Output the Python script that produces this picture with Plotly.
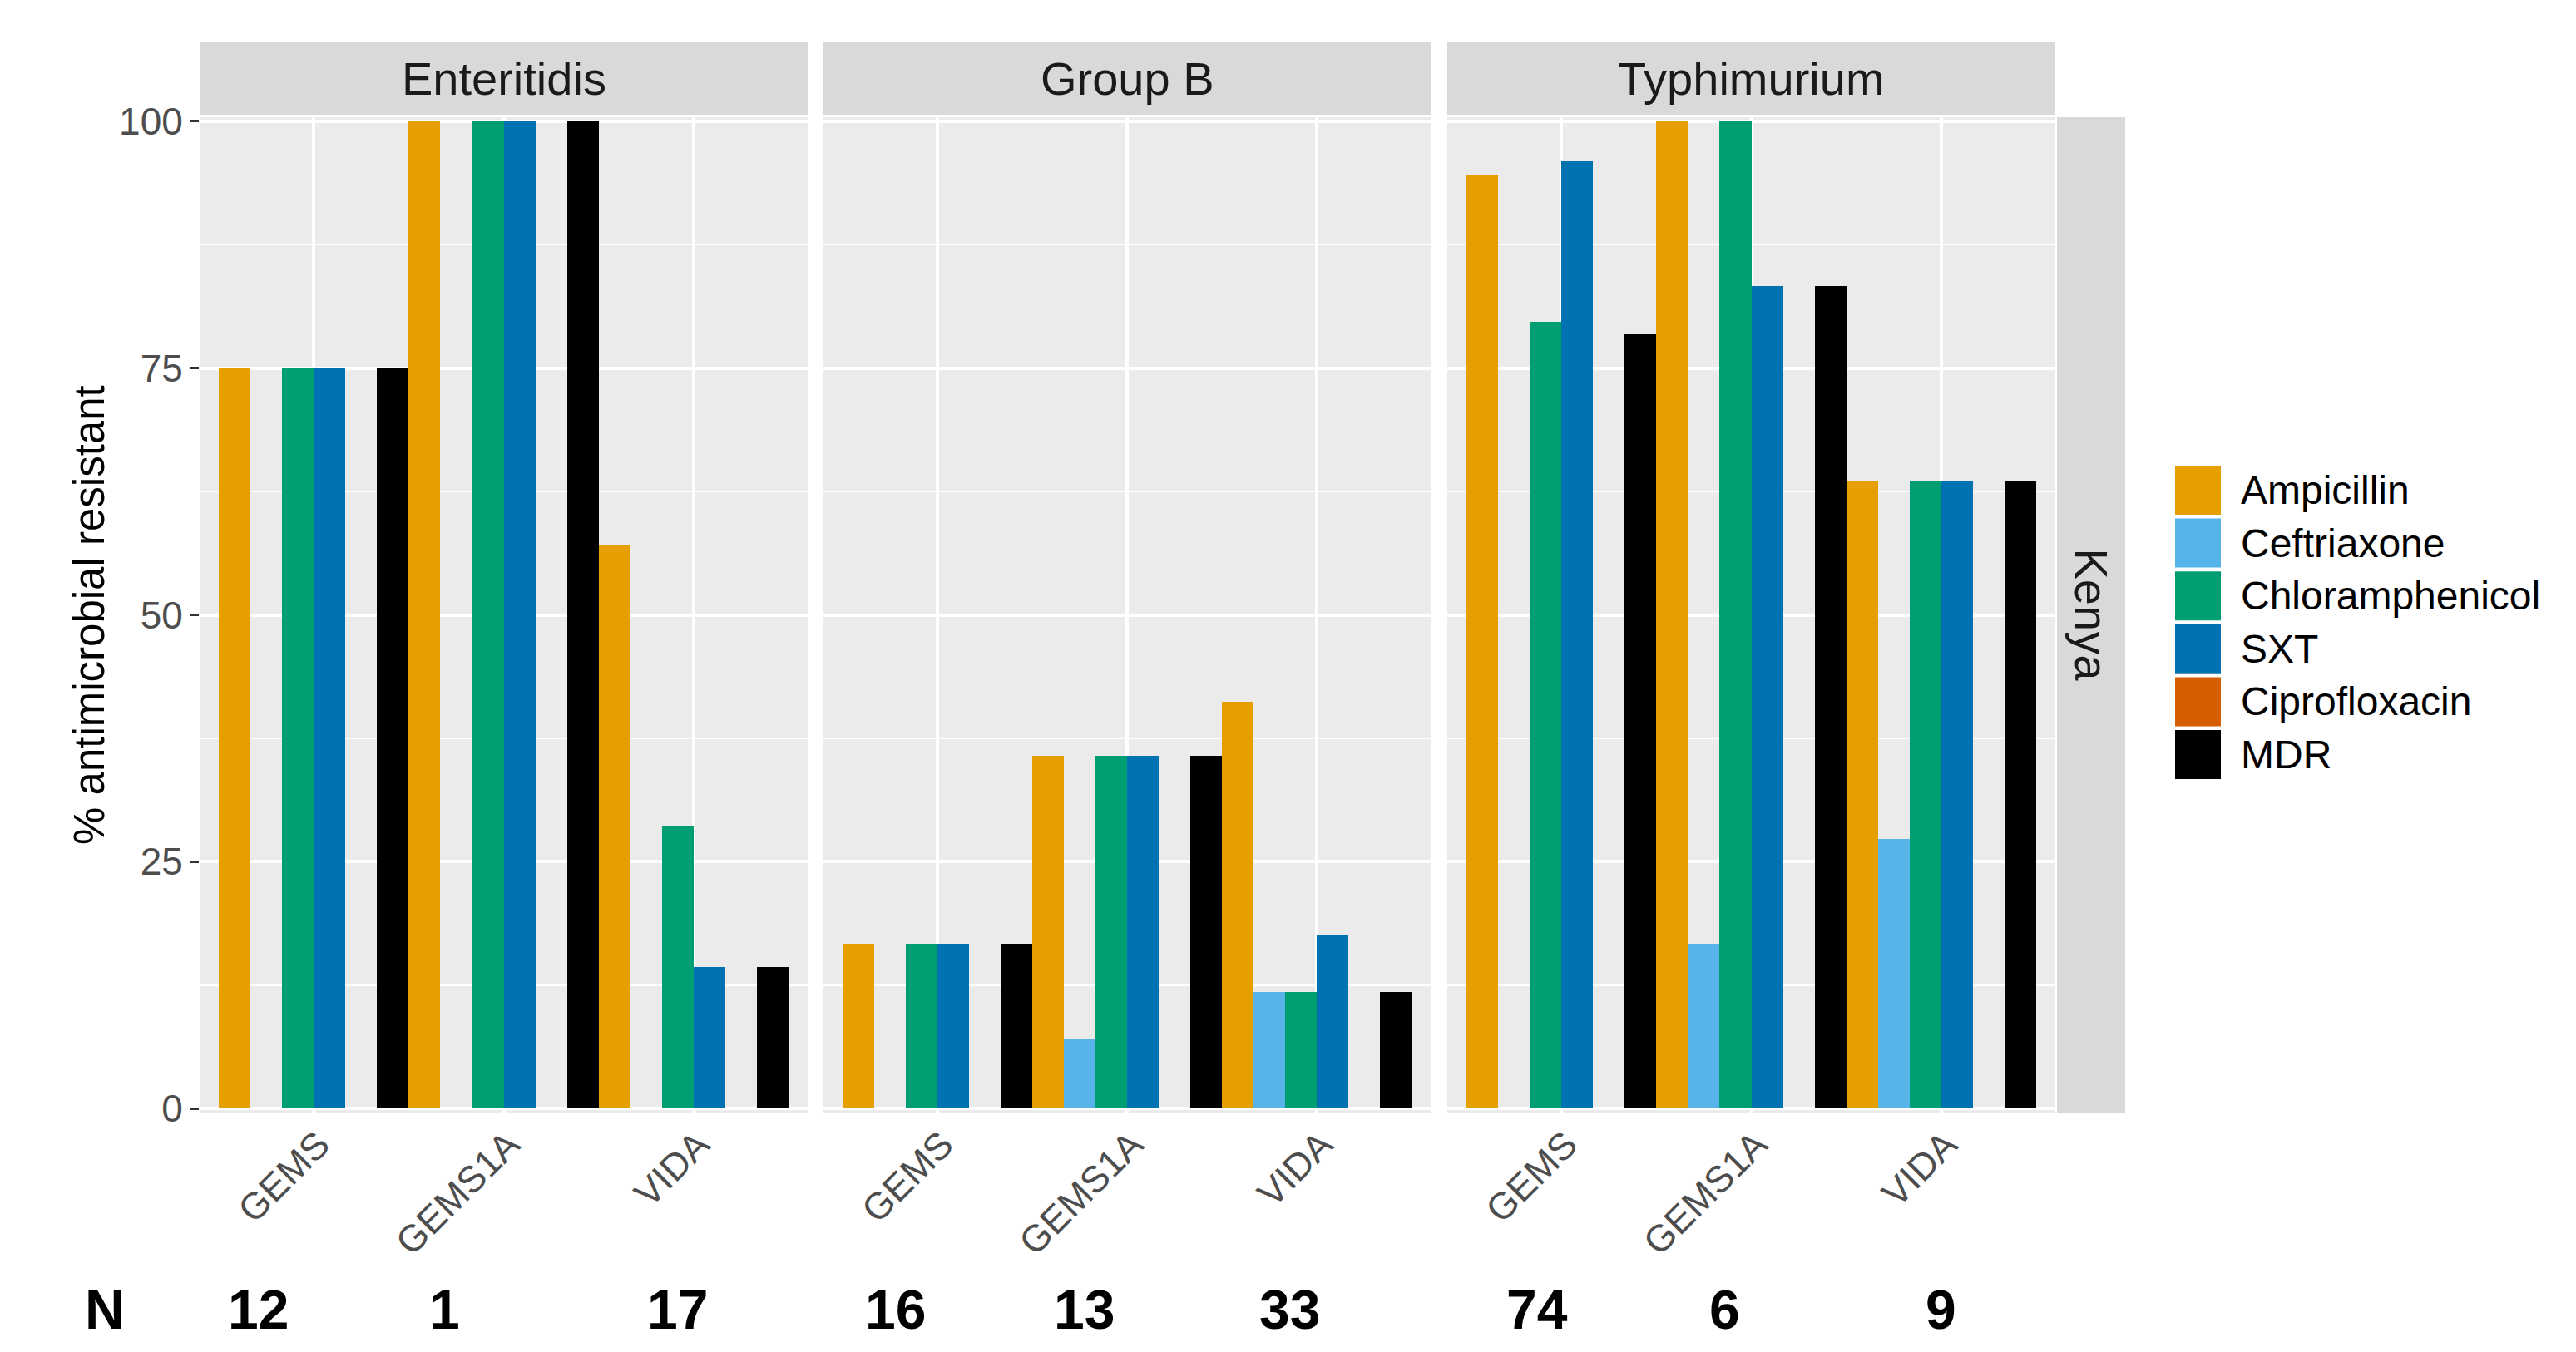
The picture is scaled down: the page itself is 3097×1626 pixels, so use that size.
import plotly.graph_objects as go

# ---------------- data ----------------
serotypes = ["Enteritidis", "Group B", "Typhimurium"]
categories = ["GEMS", "GEMS1A", "VIDA"]
antimicrobials = ["Ampicillin", "Ceftriaxone", "Chloramphenicol", "SXT", "Ciprofloxacin", "MDR"]

# values in order: Enteritidis(GEMS, GEMS1A, VIDA), Group B(...), Typhimurium(...)
ampicillin      = [75.0, 100.0, 57.1, 16.7, 35.7, 41.2, 94.6, 100.0, 63.6]
ceftriaxone     = [0.0, 0.0, 0.0, 0.0, 7.1, 11.8, 0.0, 16.7, 27.3]
chloramphenicol = [75.0, 100.0, 28.6, 16.7, 35.7, 11.8, 79.7, 100.0, 63.6]
sxt             = [75.0, 100.0, 14.3, 16.7, 35.7, 17.6, 95.9, 83.3, 63.6]
ciprofloxacin   = [0.0, 0.0, 0.0, 0.0, 0.0, 0.0, 0.0, 0.0, 0.0]
mdr             = [75.0, 100.0, 14.3, 16.7, 35.7, 11.8, 78.4, 83.3, 63.6]

n_labels = ["12", "1", "17", "16", "13", "33", "74", "6", "9"]
row_label = "Kenya"
y_title = "% antimicrobial resistant"
y_ticks = [0, 25, 50, 75, 100]

series = [ampicillin, ceftriaxone, chloramphenicol, sxt, ciprofloxacin, mdr]
colors = ["#E69F00", "#56B4E9", "#009E73", "#0072B2", "#D55E00", "#000000"]

# ---------------- layout geometry (page pixels) ----------------
PAGE_W, PAGE_H = 3097, 1626
BODY = 8                      # default body margin of the html page
W, H = PAGE_W - 2 * BODY, PAGE_H - 2 * BODY
FONT = "Liberation Sans, Arial, sans-serif"
panels_px = [(240, 971), (990, 1720), (1740, 2471)]
panel_top, panel_bottom = 141, 1338
strip_top, strip_bottom = 51, 138


def fx(p):
    return (p - BODY) / W


def fy(p):
    return 1 - (p - BODY) / H


fig = go.Figure()
for j, sero in enumerate(serotypes):
    xa = "x" if j == 0 else f"x{j+1}"
    ya = "y" if j == 0 else f"y{j+1}"
    for k, name in enumerate(antimicrobials):
        vals = series[k][3 * j:3 * j + 3]
        fig.add_trace(go.Bar(
            x=categories, y=vals, name=name,
            marker=dict(color=colors[k], line=dict(width=0)),
            xaxis=xa, yaxis=ya, showlegend=False, legendgroup=name,
        ))

layout = dict(
    width=W, height=H,
    margin=dict(l=0, r=0, t=0, b=0, pad=0, autoexpand=False),
    paper_bgcolor="white",
    plot_bgcolor="#EBEBEB",
    barmode="group", bargap=0, bargroupgap=0,
    font=dict(family=FONT),
    showlegend=False,
)

for j, (x0, x1) in enumerate(panels_px):
    sfx = "" if j == 0 else str(j + 1)
    layout["xaxis" + sfx] = dict(
        domain=[fx(x0), fx(x1)], anchor="y" + sfx,
        type="category", categoryorder="array", categoryarray=categories,
        range=[-0.6, 2.6], automargin=False,
        showgrid=True, gridcolor="white", gridwidth=3.5,
        zeroline=False, showline=False, ticks="",
        tickangle=-45, tickfont=dict(size=45, color="#4D4D4D", family=FONT),
        ticklabelstandoff=2, ticklabelshift=6,
    )
    ya = dict(
        domain=[fy(panel_bottom), fy(panel_top)], anchor="x" + sfx,
        range=[-0.4, 100.4], tickvals=y_ticks, automargin=False,
        showgrid=True, gridcolor="white", gridwidth=3.5,
        minor=dict(dtick=12.5, tick0=0, showgrid=True, gridcolor="white", gridwidth=1.8),
        zeroline=False, showline=False,
        showticklabels=(j == 0),
        ticks="outside" if j == 0 else "", ticklen=10, tickwidth=3, tickcolor="#333333",
        tickfont=dict(size=46, color="#4D4D4D", family=FONT),
    )
    if j > 0:
        ya["matches"] = "y"
    layout["yaxis" + sfx] = ya

fig.update_layout(**layout)

shapes = []
annotations = []

# top strips
for j, (x0, x1) in enumerate(panels_px):
    shapes.append(dict(type="rect", xref="paper", yref="paper",
                       x0=fx(x0), x1=fx(x1), y0=fy(strip_bottom), y1=fy(strip_top),
                       fillcolor="#D9D9D9", line=dict(width=0), layer="below"))
    annotations.append(dict(text=serotypes[j], xref="paper", yref="paper",
                            x=fx((x0 + x1) / 2), y=fy((strip_top + strip_bottom) / 2),
                            showarrow=False, xanchor="center", yanchor="middle",
                            font=dict(size=56, color="#1A1A1A", family=FONT)))

# right strip
shapes.append(dict(type="rect", xref="paper", yref="paper",
                   x0=fx(2473), x1=fx(2555), y0=fy(panel_bottom), y1=fy(panel_top),
                   fillcolor="#D9D9D9", line=dict(width=0), layer="below"))
annotations.append(dict(text=row_label, xref="paper", yref="paper",
                        x=fx(2514), y=fy((panel_top + panel_bottom) / 2),
                        showarrow=False, textangle=90, xanchor="center", yanchor="middle",
                        font=dict(size=56, color="#1A1A1A", family=FONT)))

# y-axis title
annotations.append(dict(text=y_title, xref="paper", yref="paper",
                        x=fx(107), y=fy(740), showarrow=False, textangle=-90,
                        xanchor="center", yanchor="middle",
                        font=dict(size=51, color="black", family=FONT)))

# legend (manual, large keys)
key_x0, key_x1 = 2615, 2670
key_top0, key_pitch, key_h = 560, 63.6, 59
for k, name in enumerate(antimicrobials):
    t = key_top0 + k * key_pitch
    shapes.append(dict(type="rect", xref="paper", yref="paper",
                       x0=fx(key_x0), x1=fx(key_x1), y0=fy(t + key_h), y1=fy(t),
                       fillcolor=colors[k], line=dict(width=0)))
    annotations.append(dict(text=name, xref="paper", yref="paper",
                            x=fx(2692), y=fy(t + key_h / 2), showarrow=False,
                            xanchor="left", yanchor="middle",
                            font=dict(size=48, color="black", family=FONT)))

# N row (kept just inside the bottom edge)
n_y = fy(1614)
annotations.append(dict(text="<b>N</b>", xref="paper", yref="paper", x=fx(126), y=n_y,
                        showarrow=False, xanchor="center", yanchor="bottom",
                        font=dict(size=66, color="black", family=FONT)))
n_shifts = [-67, -71, -19, -50, -52, -33, -29, -32, 0]
for idx, lab in enumerate(n_labels):
    j, i = divmod(idx, 3)
    xa = "x" if j == 0 else f"x{j+1}"
    annotations.append(dict(text=f"<b>{lab}</b>", xref=xa, yref="paper",
                            x=i, y=n_y, xshift=n_shifts[idx], showarrow=False,
                            xanchor="center", yanchor="bottom",
                            font=dict(size=66, color="black", family=FONT)))

fig.update_layout(shapes=shapes, annotations=annotations)
fig.write_html("out.html")
